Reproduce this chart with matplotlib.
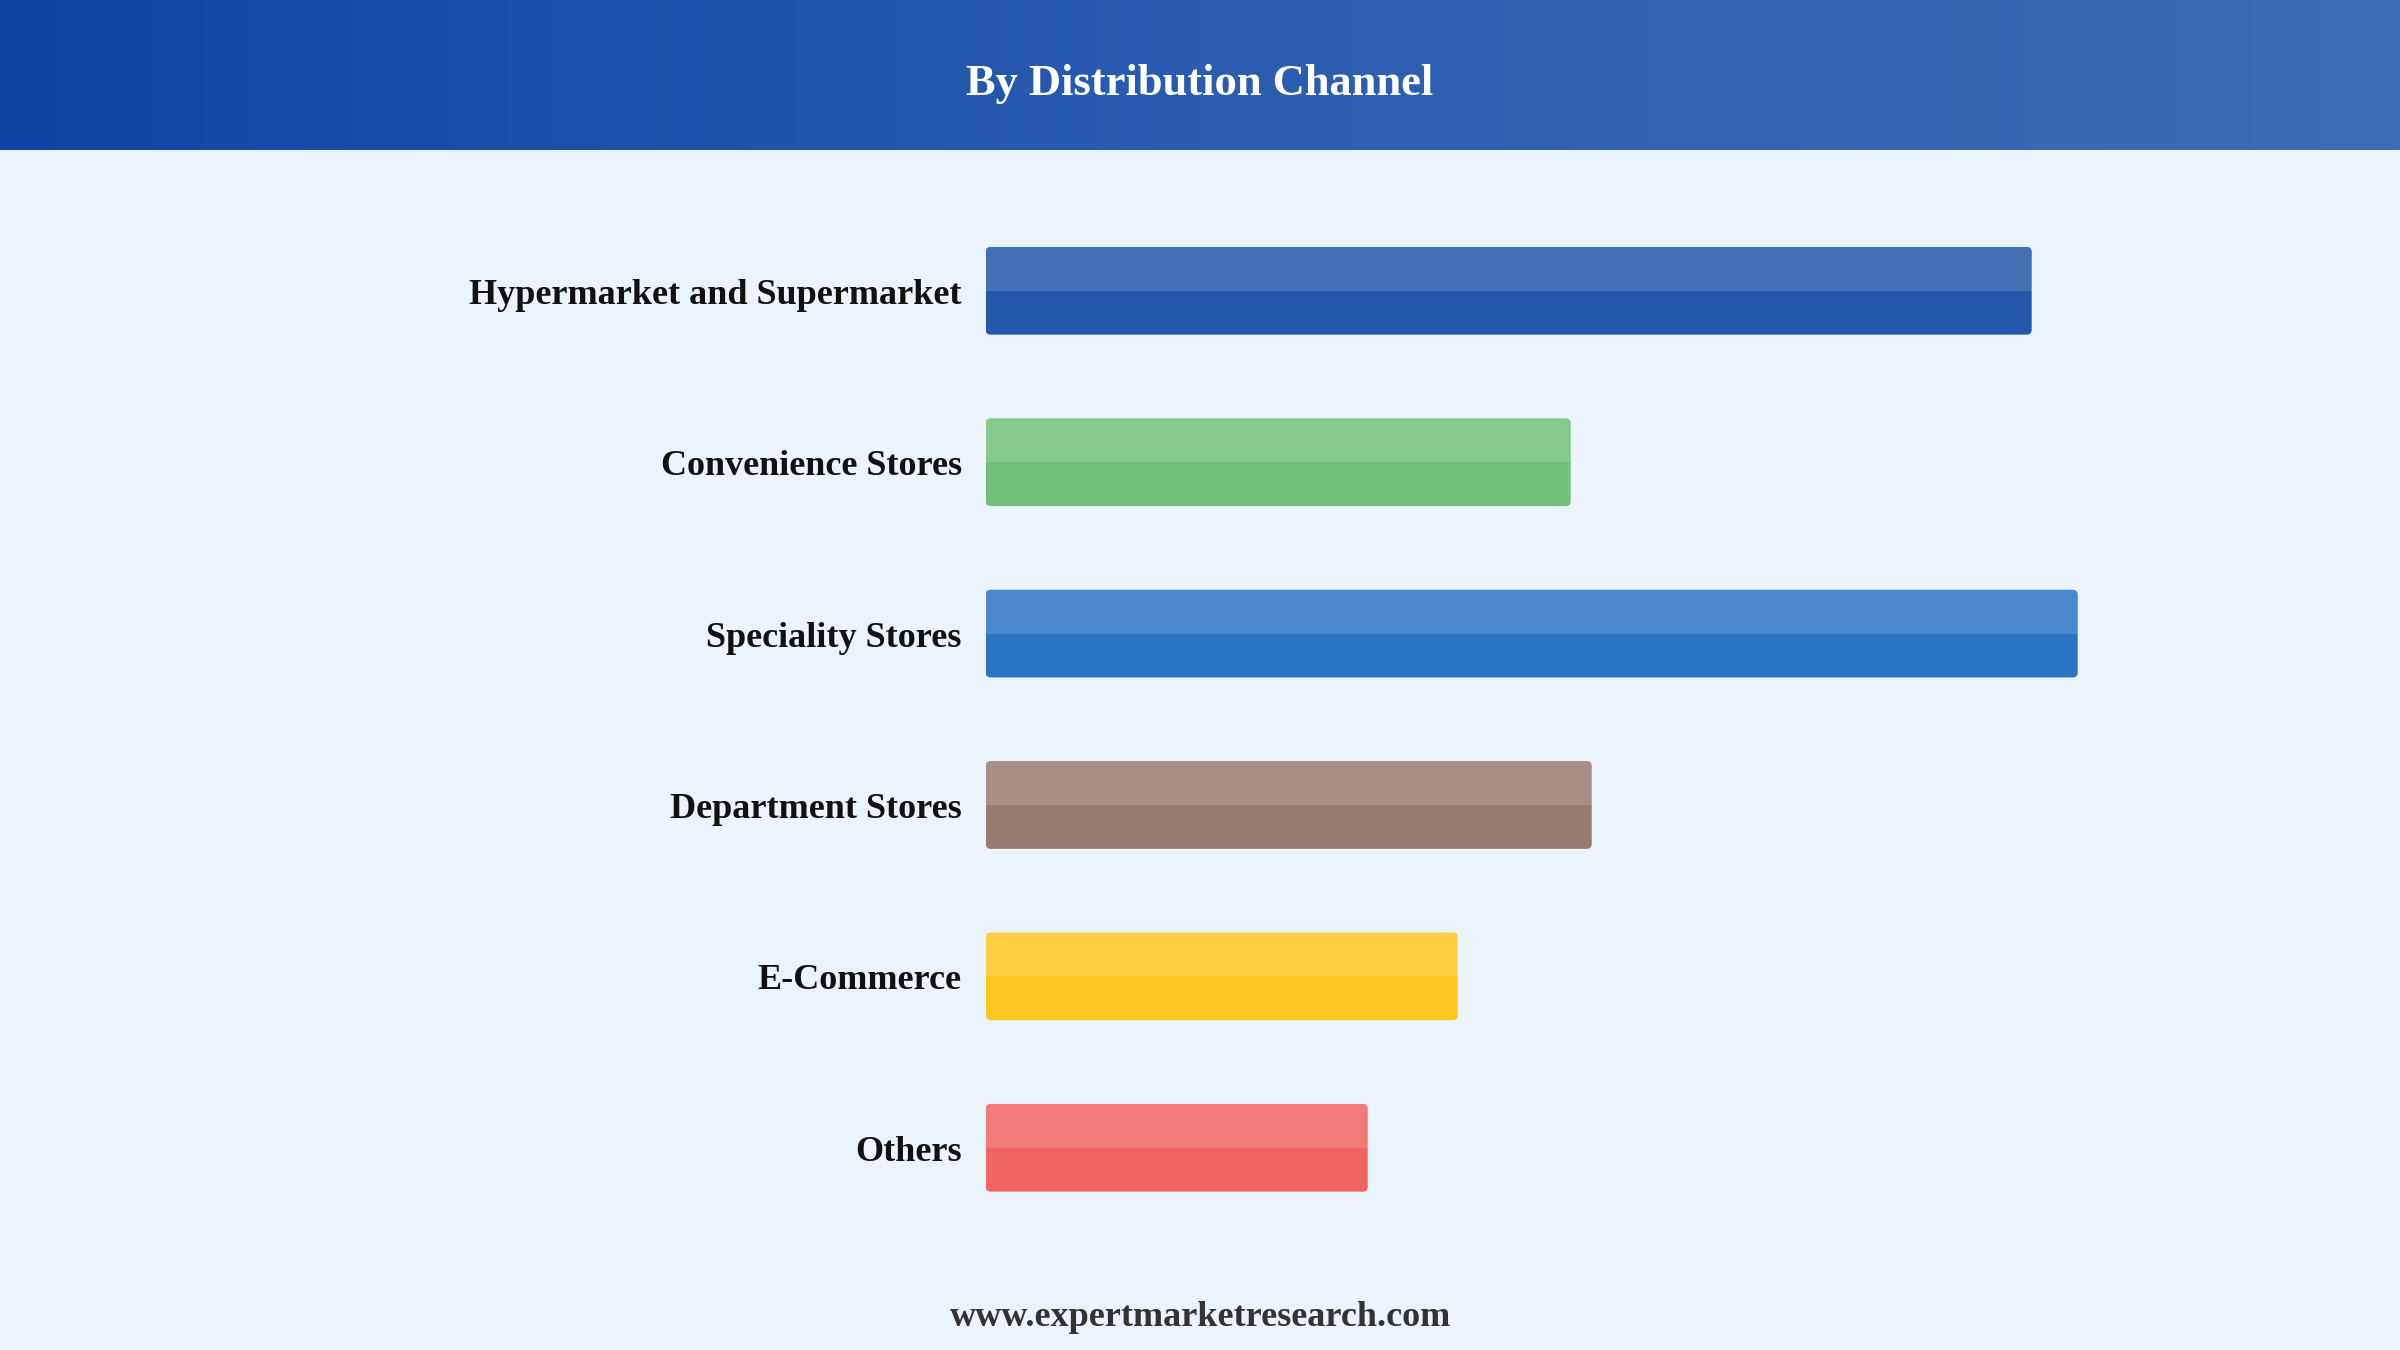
import numpy as np
import matplotlib.pyplot as plt
from matplotlib.patches import FancyBboxPatch, Rectangle
from matplotlib.colors import LinearSegmentedColormap

# Dados (valores relativos)
categories = ["Hypermarket and Supermarket", "Convenience Stores", "Speciality Stores",
              "Department Stores", "E-Commerce", "Others"]
values = [104.6, 58.5, 109.2, 60.6, 47.2, 38.2]
bar_colors = ["#2357a9", "#72c077", "#2a74c4", "#987b72", "#fdc621", "#f06563"]

title = "By Distribution Channel"
footer = "www.expertmarketresearch.com"

W, H = 2400, 1350
bg = "#ebf3fc"
serif = ["Liberation Serif", "DejaVu Serif"]

fig = plt.figure(figsize=(24, 13.5), dpi=100, facecolor=bg)

# Cabeçalho com gradiente
head_h = 150
hax = fig.add_axes([0, 1 - head_h / H, 1, head_h / H])
cmap = LinearSegmentedColormap.from_list("head", ["#0e45a2", "#2a5db0", "#3e6db6"])
hax.imshow(np.linspace(0, 1, 256)[None, :], aspect="auto", cmap=cmap, extent=[0, 1, 0, 1])
hax.set_axis_off()
hax.text(0.5, 0.44, title, ha="center", va="center", color="white",
         fontsize=32, fontweight="bold", family=serif, transform=hax.transAxes)

# Eixo das barras
x0_px, x1_px = 985.7, 2200
top_px, bot_px = 160, 1250
c0, step = 290.8, 171.4
xscale = 10.0  # px por unidade
ax = fig.add_axes([x0_px / W, (H - bot_px) / H, (x1_px - x0_px) / W, (bot_px - top_px) / H])
ax.set_facecolor(bg)
ax.set_xlim(0, (x1_px - x0_px) / xscale)
ax.set_ylim((bot_px - c0) / step, (top_px - c0) / step)
ax.set_axis_off()

bh = 87.7 / step
r_px = 5
aspect = (r_px / step) / (r_px / xscale)
for i, (cat, v, col) in enumerate(zip(categories, values, bar_colors)):
    bar = FancyBboxPatch((0, i - bh / 2), v, bh,
                         boxstyle=f"round,pad=0,rounding_size={r_px / xscale}",
                         mutation_aspect=aspect, facecolor=col, edgecolor="none")
    ax.add_patch(bar)
    shine = Rectangle((0, i - bh / 2), v, bh / 2, facecolor="white", alpha=0.15,
                      edgecolor="none")
    ax.add_patch(shine)
    shine.set_clip_path(bar)
    ax.text(-24 / xscale, i + 4.5 / step, cat, ha="right", va="center", fontsize=26,
            fontweight="bold", family=serif, color="#111111")

fig.text(0.5, 1 - 1317 / H, footer, ha="center", va="center", fontsize=26,
         fontweight="bold", family=serif, color="#333333")

fig.savefig("out.png", dpi=100, facecolor=bg)
